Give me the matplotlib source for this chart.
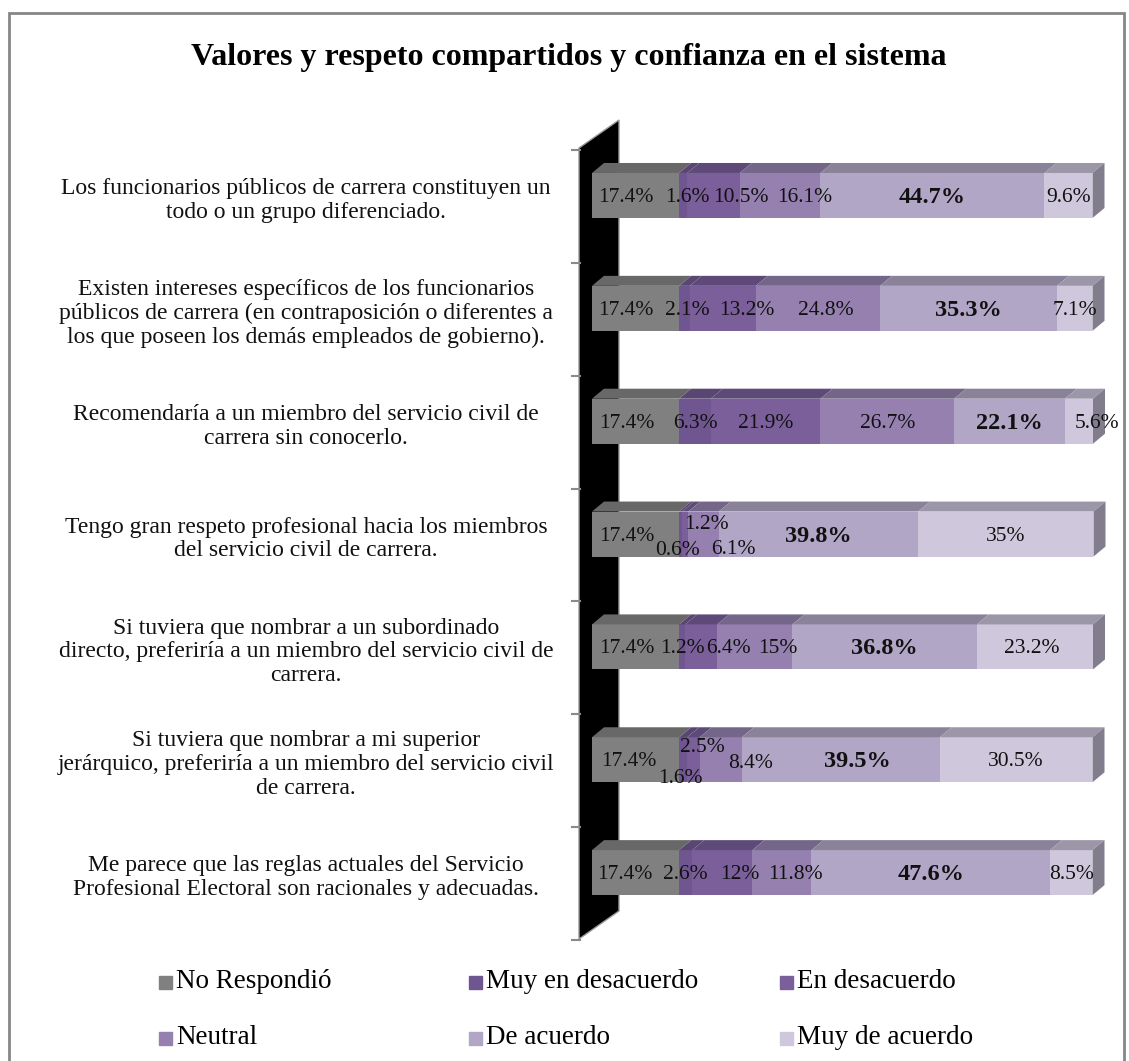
import matplotlib
matplotlib.use("Agg")
import matplotlib.pyplot as plt
from matplotlib.patches import Polygon, Rectangle
from matplotlib.transforms import blended_transform_factory
import numpy as np

plt.rcParams["font.family"] = ["Liberation Serif", "DejaVu Serif"]

TITLE = "Valores y respeto compartidos y confianza en el sistema"
QUESTIONS = [
    "Los funcionarios públicos de carrera constituyen un\ntodo o un grupo diferenciado.",
    "Existen intereses específicos de los funcionarios\npúblicos de carrera (en contraposición o diferentes a\nlos que poseen los demás empleados de gobierno).",
    "Recomendaría a un miembro del servicio civil de\ncarrera sin conocerlo.",
    "Tengo gran respeto profesional hacia los miembros\ndel servicio civil de carrera.",
    "Si tuviera que nombrar a un subordinado\ndirecto, preferiría a un miembro del servicio civil de\ncarrera.",
    "Si tuviera que nombrar a mi superior\njerárquico, preferiría a un miembro del servicio civil\nde carrera.",
    "Me parece que las reglas actuales del Servicio\nProfesional Electoral son racionales y adecuadas.",
]
SERIES = ["No Respondió", "Muy en desacuerdo", "En desacuerdo", "Neutral", "De acuerdo", "Muy de acuerdo"]
no_respondio = [17.4, 17.4, 17.4, 17.4, 17.4, 17.4, 17.4]
muy_desacuerdo = [1.6, 2.1, 6.3, 0.6, 1.2, 1.6, 2.6]
desacuerdo = [10.5, 13.2, 21.9, 1.2, 6.4, 2.5, 12]
neutral = [16.1, 24.8, 26.7, 6.1, 15, 8.4, 11.8]
de_acuerdo = [44.7, 35.3, 22.1, 39.8, 36.8, 39.5, 47.6]
muy_acuerdo = [9.6, 7.1, 5.6, 35, 23.2, 30.5, 8.5]
VALUES = [no_respondio, muy_desacuerdo, desacuerdo, neutral, de_acuerdo, muy_acuerdo]

FACE = ["#808080", "#6f5690", "#7b5f9b", "#9580b0", "#b1a6c6", "#cfc8dc"]
TOP = ["#686868", "#5a4672", "#5e4a78", "#746688", "#8a8299", "#9c97a8"]
SIDE = "#817d8d"

# label nudges in pixels (dx, dy) where the reference moves them off-centre
NUDGE = {(0, 0): (-10, 0), (0, 1): (4, 0), (0, 2): (27, 0), (0, 3): (25, 0),
         (1, 0): (-10, 0), (1, 1): (3, 0), (1, 2): (24, 0), (1, 3): (8, 0),
         (2, 0): (-9, 0), (2, 5): (18, 0),
         (3, 0): (-9, 0), (3, 1): (-3, 14), (3, 2): (21, -12), (3, 3): (30, 13),
         (4, 0): (-9, 0), (4, 2): (27, 0), (4, 3): (23, 0), (4, 5): (-3, 0),
         (5, 0): (-7, 0), (5, 1): (-3, 17), (5, 2): (9, -14), (5, 3): (30, 2), (5, 4): (17, 0),
         (6, 0): (-11, 0), (6, 2): (18, 0), (6, 3): (14, 0)}

W, H = 1129, 1061
fig = plt.figure(figsize=(W / 100, H / 100), dpi=100)
X0, X1, YT, YB = 592, 1093, 150, 940
ax = fig.add_axes([X0 / W, 1 - YB / H, (X1 - X0) / W, (YB - YT) / H])
n = len(QUESTIONS)
ax.set_xlim(0, 100)
ax.set_ylim(n - 0.403, -0.403)
ax.axis("off")
sx = 100 / (X1 - X0)
sy = n / (YB - YT)
DX, DY = 12 * sx, 10 * sy
BH = 45 * sy

fig_px = lambda x, y: (x / W, 1 - y / H)
# black side wall
ax.add_patch(Polygon([fig_px(579, 148), fig_px(619, 120), fig_px(619, 911), fig_px(579, 939)],
                     closed=True, facecolor="black", edgecolor="#9a9a9a", lw=1,
                     transform=fig.transFigure, zorder=0, clip_on=False))
bt = blended_transform_factory(fig.transFigure, ax.transData)
for k in range(n + 1):
    ax.plot([572 / W, 580 / W], [k - 0.403] * 2, color="#8a8a8a", lw=1.5, transform=bt, clip_on=False, zorder=0)

y = np.arange(n)
left = np.zeros(n)
for j, vals in enumerate(VALUES):
    vals = np.array(vals, float)
    ax.barh(y, vals, left=left, height=BH, color=FACE[j], edgecolor="none", zorder=2)
    for i in range(n):
        l, r = left[i], left[i] + vals[i]
        yt = y[i] - BH / 2
        ax.add_patch(Polygon([(l, yt), (r, yt), (r + DX, yt - DY), (l + DX, yt - DY)],
                             closed=True, color=TOP[j], lw=0, zorder=2, clip_on=False))
        dx, dy = NUDGE.get((i, j), (0, 0))
        big = j == 4
        ax.text((l + r) / 2 + dx * sx, y[i] + (2 + dy) * sy, f"{vals[i]:g}%",
                ha="center", va="center", fontsize=17.5 if big else 15.5,
                fontweight="bold" if big else "normal", color="#111111", zorder=5, clip_on=False)
    left += vals
for i in range(n):
    R = left[i]
    yt, yb = y[i] - BH / 2, y[i] + BH / 2
    ax.add_patch(Polygon([(R, yt), (R + DX, yt - DY), (R + DX, yb - DY), (R, yb)],
                         closed=True, color=SIDE, lw=0, zorder=2, clip_on=False))
    ax.text(306 / W, y[i] + 5 * sy, QUESTIONS[i], transform=bt, ha="center", va="center",
            fontsize=17, color="#111111", linespacing=1.18)

fig.text(569 / W, 1 - 57 / H, TITLE, ha="center", va="center", fontsize=23, fontweight="bold")

# legend, 3 columns x 2 rows
LX = [159, 469, 780]
LY = [982, 1038]
for j, name in enumerate(SERIES):
    cx, cy = LX[j % 3], LY[j // 3]
    fig.patches.append(Rectangle(fig_px(cx, cy + 6.5), 13 / W, 13 / H, color=FACE[j],
                                 transform=fig.transFigure, figure=fig))
    fig.text((cx + 17) / W, 1 - cy / H, name, ha="left", va="center", fontsize=19.5)

fig.patches.append(Rectangle(fig_px(9, 1075), (1124 - 9) / W, (1075 - 13) / H, fill=False,
                             edgecolor="#868686", lw=2, transform=fig.transFigure, figure=fig))
fig.savefig("out.png", dpi=100)
